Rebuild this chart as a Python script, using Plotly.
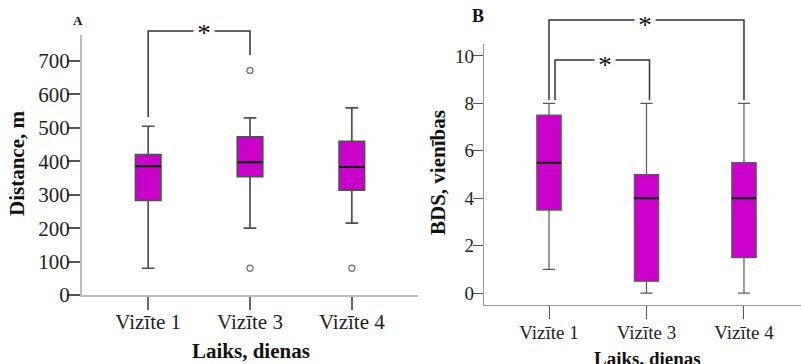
import plotly.graph_objects as go

W, H = 801, 364

# ---------------- data ----------------
categories = ["Vizīte 1", "Vizīte 3", "Vizīte 4"]

# Panel A: Distance, m
a_lower = [80, 200, 215]
a_q1 = [283, 354, 314]
a_median = [385, 397, 383]
a_q3 = [420, 473, 460]
a_upper = [505, 530, 560]
a_out_x = ["Vizīte 3", "Vizīte 3", "Vizīte 4"]
a_out_y = [672, 80, 80]
a_yticks = [0, 100, 200, 300, 400, 500, 600, 700]

# Panel B: BDS, vienības
b_lower = [1, 0, 0]
b_q1 = [3.5, 0.5, 1.5]
b_median = [5.5, 4, 4]
b_q3 = [7.5, 5, 5.5]
b_upper = [8, 8, 8]
b_yticks = [0, 2, 4, 6, 8, 10]

# ---------------- layout geometry ----------------
def px_x(p):
    return p / W

def px_y(p):
    return (H - p) / H

xa_dom = [px_x(82), px_x(418)]
ya_dom = [px_y(295), px_y(35)]
xb_dom = [px_x(484), 1.0]
yb_dom = [px_y(305), px_y(44)]
xa_range = [-0.65, 2.65]
ya_range = [0, 778]
xb_range = [-0.667, 2.585]
yb_range = [-0.5, 10.5]

def cat_paper(idx, dom, rng, dpx=0):
    f = (idx - rng[0]) / (rng[1] - rng[0])
    return dom[0] + f * (dom[1] - dom[0]) + dpx / W

FONT = "Liberation Serif, Times New Roman, serif"
BOX_FILL = "#CC00CC"
BW = 0.25

fig = go.Figure()

# Panel A boxes
fig.add_trace(go.Box(
    x=categories, q1=a_q1, median=a_median, q3=a_q3,
    lowerfence=a_lower, upperfence=a_upper,
    xaxis="x", yaxis="y", width=BW, whiskerwidth=0.5,
    fillcolor=BOX_FILL, line=dict(color="#505050", width=1.7),
    boxpoints=False, showlegend=False, hoverinfo="skip"))
fig.add_trace(go.Box(
    x=categories, q1=a_median, median=a_median, q3=a_median,
    lowerfence=a_median, upperfence=a_median,
    xaxis="x", yaxis="y", width=BW, whiskerwidth=0,
    fillcolor="rgba(0,0,0,0)", line=dict(color="#111111", width=2),
    boxpoints=False, showlegend=False, hoverinfo="skip"))
fig.add_trace(go.Scatter(
    x=a_out_x, y=a_out_y, mode="markers", xaxis="x", yaxis="y",
    marker=dict(symbol="circle-open", size=6, color="#777777", line=dict(width=1.3)),
    showlegend=False, hoverinfo="skip"))

# Panel B boxes
fig.add_trace(go.Box(
    x=categories, q1=b_q1, median=b_median, q3=b_q3,
    lowerfence=b_lower, upperfence=b_upper,
    xaxis="x2", yaxis="y2", width=BW, whiskerwidth=0.5,
    fillcolor=BOX_FILL, line=dict(color="#5a5a5a", width=1.2),
    boxpoints=False, showlegend=False, hoverinfo="skip"))
fig.add_trace(go.Box(
    x=categories, q1=b_median, median=b_median, q3=b_median,
    lowerfence=b_median, upperfence=b_median,
    xaxis="x2", yaxis="y2", width=BW, whiskerwidth=0,
    fillcolor="rgba(0,0,0,0)", line=dict(color="#111111", width=2),
    boxpoints=False, showlegend=False, hoverinfo="skip"))

axis_common = dict(showgrid=False, zeroline=False, showline=True, ticks="outside",
                   fixedrange=True, automargin=False)

fig.update_layout(
    template="none",
    width=W, height=H, margin=dict(l=0, r=0, t=0, b=0, pad=0),
    paper_bgcolor="white", plot_bgcolor="white",
    boxmode="overlay",
    font=dict(family=FONT, color="#222222"),
    xaxis=dict(domain=xa_dom, range=xa_range, anchor="y", type="category",
               linecolor="#bdbdbd", linewidth=2, ticklen=13, tickcolor="#666666", tickwidth=1.5,
               ticklabelstandoff=-6,
               tickfont=dict(size=21, family=FONT, color="#222222"), **axis_common),
    yaxis=dict(domain=ya_dom, range=ya_range, anchor="x", tickvals=a_yticks,
               linecolor="#bdbdbd", linewidth=2, ticklen=13, tickcolor="#555555", tickwidth=1.5,
               ticklabelstandoff=-7,
               tickfont=dict(size=21, family=FONT, color="#222222"), **axis_common),
    xaxis2=dict(domain=xb_dom, range=xb_range, anchor="y2", type="category",
                linecolor="#999999", linewidth=1.2, ticklen=13, tickcolor="#555555", tickwidth=1.2,
                ticklabelstandoff=-3,
                tickfont=dict(size=19, family=FONT, color="#222222"), **axis_common),
    yaxis2=dict(domain=yb_dom, range=yb_range, anchor="x2", tickvals=b_yticks,
                linecolor="#999999", linewidth=1.2, ticklen=10, tickcolor="#555555", tickwidth=1.2,
                ticklabelstandoff=-5,
                tickfont=dict(size=19, family=FONT, color="#222222"), **axis_common),
)

# ---------------- titles ----------------
ann = []
ann.append(dict(text="<b>Distance, m</b>", x=px_x(17), y=px_y(164), textangle=-90,
                font=dict(size=21, family=FONT, color="#111111")))
ann.append(dict(text="<b>Laiks, dienas</b>", x=px_x(251), y=px_y(351),
                font=dict(size=21, family=FONT, color="#111111")))
ann.append(dict(text="<b>BDS, vienības</b>", x=px_x(438), y=px_y(173), textangle=-90,
                font=dict(size=21, family=FONT, color="#111111")))
ann.append(dict(text="<b>Laiks, dienas</b>", x=px_x(647), y=px_y(358),
                font=dict(size=19, family=FONT, color="#111111")))
ann.append(dict(text="<b>A</b>", x=px_x(78), y=px_y(20),
                font=dict(size=13, family=FONT, color="#111111")))
ann.append(dict(text="<b>B</b>", x=px_x(478), y=px_y(16),
                font=dict(size=18, family=FONT, color="#111111")))

# ---------------- significance brackets ----------------
shapes = []
LC = "#333333"

def bracket(xl, xr, y_top, yl_bot, yr_bot, width=1.5):
    shapes.append(dict(type="path", xref="paper", yref="paper",
                       path=f"M {xl},{px_y(yl_bot)} L {xl},{px_y(y_top)} L {xr},{px_y(y_top)} L {xr},{px_y(yr_bot)}",
                       line=dict(color=LC, width=width)))

def star(xc, yc, size=27, w=20):
    ann.append(dict(text="*", x=xc, y=px_y(yc), font=dict(size=size, family=FONT, color="#111111"),
                    bgcolor="white", width=w, height=16, borderpad=0))

# Panel A: Vizīte 1 vs Vizīte 3
ax1 = cat_paper(0, xa_dom, xa_range)
ax3 = cat_paper(1, xa_dom, xa_range)
bracket(ax1, ax3, 31, 117, 55)
star((ax1 + ax3) / 2 + 4.5 / W, 33)

# Panel B: outer Vizīte 1 vs Vizīte 4, inner Vizīte 1 vs Vizīte 3
bx1 = cat_paper(0, xb_dom, xb_range)
bx3 = cat_paper(1, xb_dom, xb_range)
bx4 = cat_paper(2, xb_dom, xb_range)
bracket(bx1, bx4, 20, 100, 100)
bracket(bx1 + 6 / W, bx3 + 3 / W, 60, 100, 100)
star(cat_paper(0.985, xb_dom, xb_range), 25)
star(cat_paper(0.575, xb_dom, xb_range), 65)

fig.update_layout(shapes=shapes,
                  annotations=[dict(xref="paper", yref="paper", showarrow=False,
                                    xanchor="center", yanchor="middle", **a) for a in ann])

fig.write_html("out.html", config={"displayModeBar": False},
               post_script="document.body.style.margin='0px';document.body.style.padding='0px';")
